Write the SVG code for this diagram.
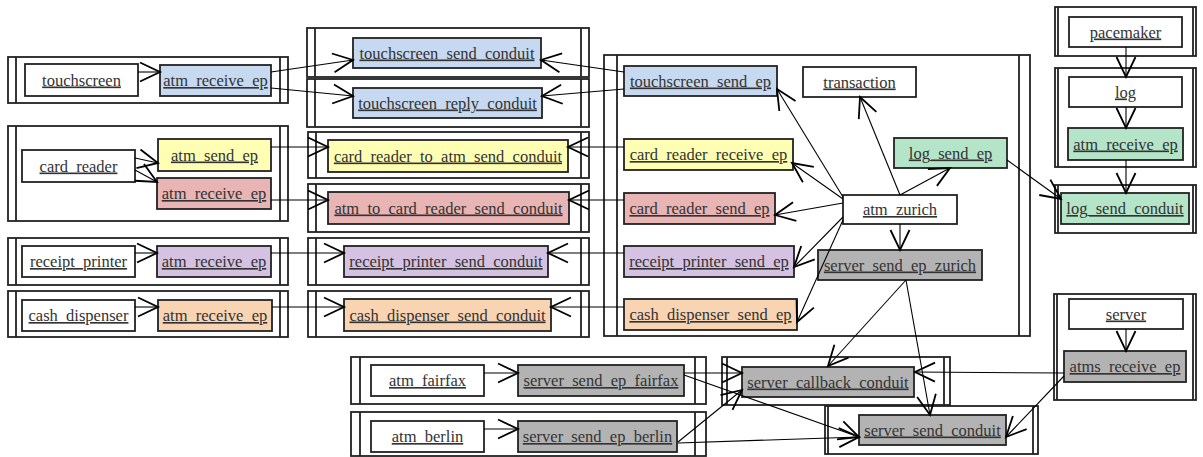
<svg xmlns="http://www.w3.org/2000/svg" width="1203" height="457" viewBox="0 0 1203 457">
<defs>
<marker id="ah" markerUnits="userSpaceOnUse" markerWidth="24" markerHeight="24" refX="20" refY="10" orient="auto" overflow="visible">
<path d="M0,0.5 L20,10 L0,19.5" fill="none" stroke="#000" stroke-width="1.8"/>
</marker>
<style>
.c{fill:#fff;stroke:#222;stroke-width:1.8}
.b{stroke:#222;stroke-width:1.8}
.n{stroke:#222;stroke-width:1.8}
.w{fill:#fff}
.blue{fill:#c6d9f0}
.yel{fill:#ffffb3}
.red{fill:#e8b4b4}
.pur{fill:#d5c2e2}
.org{fill:#f9d4b3}
.grn{fill:#b5e5c8}
.gry{fill:#b3b3b3}
text{font-family:"Liberation Serif","Times New Roman",serif;font-size:16.5px;fill:#333;text-anchor:middle;text-decoration:underline}
.e path{fill:none;stroke:#000;stroke-width:1.1;marker-end:url(#ah)}
</style>
</defs>
<rect width="1203" height="457" fill="#fff"/>

<!-- containers -->
<g id="proc_touchscreen"><rect class="c" x="8" y="57" width="280" height="46"/><path class="b" d="M16,57V103M280,57V103"/></g>
<g id="proc_card_reader"><rect class="c" x="8" y="126" width="280" height="95"/><path class="b" d="M16,126V221M280,126V221"/></g>
<g id="proc_receipt_printer"><rect class="c" x="8" y="238" width="280" height="47"/><path class="b" d="M16,238V285M280,238V285"/></g>
<g id="proc_cash_dispenser"><rect class="c" x="8" y="291" width="280" height="46"/><path class="b" d="M16,291V337M280,291V337"/></g>

<g id="proc_ts_send_conduit"><rect class="c" x="307" y="28" width="282" height="49"/><path class="b" d="M315,28V77M581,28V77"/></g>
<g id="proc_ts_reply_conduit"><rect class="c" x="307" y="79" width="282" height="48"/><path class="b" d="M315,79V127M581,79V127"/></g>
<g id="proc_cr_to_atm_conduit"><rect class="c" x="308" y="132" width="281" height="46"/><path class="b" d="M316,132V178M581,132V178"/></g>
<g id="proc_atm_to_cr_conduit"><rect class="c" x="308" y="184" width="281" height="48"/><path class="b" d="M316,184V232M581,184V232"/></g>
<g id="proc_rp_conduit"><rect class="c" x="308" y="238" width="281" height="47"/><path class="b" d="M316,238V285M581,238V285"/></g>
<g id="proc_cd_conduit"><rect class="c" x="308" y="291" width="281" height="46"/><path class="b" d="M316,291V337M581,291V337"/></g>

<g id="proc_atm_zurich"><rect class="c" x="604" y="55" width="426" height="281"/><path class="b" d="M617,55V336M1019,55V336"/></g>

<g id="proc_pacemaker"><rect class="c" x="1055" y="7" width="141" height="49"/><path class="b" d="M1058,7V56M1193,7V56"/></g>
<g id="proc_log"><rect class="c" x="1055" y="68" width="141" height="99"/><path class="b" d="M1058,68V167M1193,68V167"/></g>
<g id="proc_log_send_conduit"><rect class="c" x="1055" y="185" width="141" height="48"/><path class="b" d="M1058,185V233M1193,185V233"/></g>
<g id="proc_server"><rect class="c" x="1054" y="294" width="142" height="106"/><path class="b" d="M1057,294V400M1193,294V400"/></g>

<g id="proc_atm_fairfax"><rect class="c" x="351" y="357" width="355" height="47"/><path class="b" d="M360,357V404M695,357V404"/></g>
<g id="proc_atm_berlin"><rect class="c" x="351" y="412" width="355" height="44"/><path class="b" d="M360,412V456M695,412V456"/></g>
<g id="proc_server_callback_conduit"><rect class="c" x="722" y="357" width="228" height="48"/><path class="b" d="M727,357V405M944,357V405"/></g>
<g id="proc_server_send_conduit"><rect class="c" x="825" y="406" width="213" height="48"/><path class="b" d="M828,406V454M1033,406V454"/></g>

<!-- nodes -->
<g id="touchscreen"><rect class="n w" x="25" y="64" width="113" height="32"/><text x="81.5" y="85.5">touchscreen</text></g>
<g id="ts_atm_receive_ep"><rect class="n blue" x="160" y="65" width="111" height="31"/><text x="215.5" y="86">atm_receive_ep</text></g>
<g id="card_reader"><rect class="n w" x="22" y="150" width="113" height="32"/><text x="78.5" y="171.5">card_reader</text></g>
<g id="cr_atm_send_ep"><rect class="n yel" x="158" y="139" width="113" height="32"/><text x="214.5" y="160.5">atm_send_ep</text></g>
<g id="cr_atm_receive_ep"><rect class="n red" x="157" y="178" width="114" height="31"/><text x="214" y="199">atm_receive_ep</text></g>
<g id="receipt_printer"><rect class="n w" x="22" y="246" width="113" height="31"/><text x="78.5" y="267">receipt_printer</text></g>
<g id="rp_atm_receive_ep"><rect class="n pur" x="157" y="246" width="114" height="31"/><text x="214" y="267">atm_receive_ep</text></g>
<g id="cash_dispenser"><rect class="n w" x="22" y="300" width="113" height="31"/><text x="78.5" y="321">cash_dispenser</text></g>
<g id="cd_atm_receive_ep"><rect class="n org" x="158" y="300" width="114" height="31"/><text x="215" y="321">atm_receive_ep</text></g>

<g id="touchscreen_send_conduit"><rect class="n blue" x="353" y="38" width="188" height="30"/><text x="447" y="58.5">touchscreen_send_conduit</text></g>
<g id="touchscreen_reply_conduit"><rect class="n blue" x="353" y="88" width="189" height="30"/><text x="447.5" y="108.5">touchscreen_reply_conduit</text></g>
<g id="card_reader_to_atm_send_conduit"><rect class="n yel" x="328" y="140" width="240" height="32"/><text x="448" y="161.5">card_reader_to_atm_send_conduit</text></g>
<g id="atm_to_card_reader_send_conduit"><rect class="n red" x="328" y="192" width="241" height="32"/><text x="448.5" y="213.5">atm_to_card_reader_send_conduit</text></g>
<g id="receipt_printer_send_conduit"><rect class="n pur" x="344" y="246" width="204" height="31"/><text x="446" y="267">receipt_printer_send_conduit</text></g>
<g id="cash_dispenser_send_conduit"><rect class="n org" x="344" y="299" width="207" height="32"/><text x="447.5" y="320.5">cash_dispenser_send_conduit</text></g>

<g id="touchscreen_send_ep"><rect class="n blue" x="624" y="66" width="153" height="30"/><text x="700.5" y="86.5">touchscreen_send_ep</text></g>
<g id="transaction"><rect class="n w" x="803" y="67" width="113" height="30"/><text x="859.5" y="87.5">transaction</text></g>
<g id="card_reader_receive_ep"><rect class="n yel" x="624" y="139" width="169" height="31"/><text x="708.5" y="160">card_reader_receive_ep</text></g>
<g id="log_send_ep"><rect class="n grn" x="894" y="138" width="113" height="30"/><text x="950.5" y="158.5">log_send_ep</text></g>
<g id="card_reader_send_ep"><rect class="n red" x="624" y="193" width="151" height="31"/><text x="699.5" y="214">card_reader_send_ep</text></g>
<g id="atm_zurich"><rect class="n w" x="843" y="195" width="114" height="29"/><text x="900" y="215">atm_zurich</text></g>
<g id="receipt_printer_send_ep"><rect class="n pur" x="624" y="246" width="170" height="31"/><text x="709" y="267">receipt_printer_send_ep</text></g>
<g id="server_send_ep_zurich"><rect class="n gry" x="818" y="250" width="164" height="30"/><text x="900" y="270.5">server_send_ep_zurich</text></g>
<g id="cash_dispenser_send_ep"><rect class="n org" x="624" y="299" width="173" height="31"/><text x="710.5" y="320">cash_dispenser_send_ep</text></g>

<g id="pacemaker"><rect class="n w" x="1069" y="17" width="113" height="30"/><text x="1125.5" y="37.5">pacemaker</text></g>
<g id="log"><rect class="n w" x="1069" y="77" width="113" height="30"/><text x="1125.5" y="97.5">log</text></g>
<g id="log_atm_receive_ep"><rect class="n grn" x="1068" y="128" width="115" height="32"/><text x="1125.5" y="149.5">atm_receive_ep</text></g>
<g id="log_send_conduit"><rect class="n grn" x="1061" y="193" width="128" height="31"/><text x="1125" y="214">log_send_conduit</text></g>
<g id="server"><rect class="n w" x="1069" y="299" width="114" height="30"/><text x="1126" y="319.5">server</text></g>
<g id="atms_receive_ep"><rect class="n gry" x="1064" y="351" width="122" height="31"/><text x="1125" y="372">atms_receive_ep</text></g>

<g id="atm_fairfax"><rect class="n w" x="371" y="365" width="113" height="31"/><text x="427.5" y="386">atm_fairfax</text></g>
<g id="server_send_ep_fairfax"><rect class="n gry" x="518" y="365" width="166" height="31"/><text x="601" y="386">server_send_ep_fairfax</text></g>
<g id="atm_berlin"><rect class="n w" x="371" y="421" width="113" height="31"/><text x="427.5" y="442">atm_berlin</text></g>
<g id="server_send_ep_berlin"><rect class="n gry" x="518" y="421" width="159" height="31"/><text x="597.5" y="442">server_send_ep_berlin</text></g>
<g id="server_callback_conduit"><rect class="n gry" x="742" y="367" width="172" height="30"/><text x="828" y="387.5">server_callback_conduit</text></g>
<g id="server_send_conduit"><rect class="n gry" x="859" y="415" width="147" height="30"/><text x="932.5" y="435.5">server_send_conduit</text></g>

<!-- connectors -->
<g id="connectors" class="e">
<path d="M138,72 L160,72"/>
<path d="M271,72 L353,60"/>
<path d="M271,88 L353,96"/>
<path d="M624,72 L541,60"/>
<path d="M624,89 L542,96"/>
<path d="M271,147 L328,147"/>
<path d="M624,147 L568,147"/>
<path d="M271,200 L328,200"/>
<path d="M624,200 L569,200"/>
<path d="M271,253 L344,253"/>
<path d="M624,253 L548,253"/>
<path d="M272,307 L344,307"/>
<path d="M624,307 L551,307"/>
<path d="M135,158 L158,163"/>
<path d="M135,170 L157,182"/>
<path d="M135,253 L157,253"/>
<path d="M135,307 L158,307"/>
<path d="M1126,47 L1126,77"/>
<path d="M1126,107 L1126,128"/>
<path d="M1126,160 L1126,193"/>
<path d="M1007,160 L1061,199"/>
<path d="M843,197 L777,89"/>
<path d="M900,195 L860,97"/>
<path d="M900,195 L950,168"/>
<path d="M843,199 L792,163"/>
<path d="M843,203 L775,215"/>
<path d="M843,217 L794,267"/>
<path d="M843,220 L797,322"/>
<path d="M900,224 L900,250"/>
<path d="M906,280 L828,366"/>
<path d="M906,280 L930,415"/>
<path d="M1064,373 L915,372"/>
<path d="M1064,376 L1006,437"/>
<path d="M1126,329 L1126,351"/>
<path d="M484,373 L518,373"/>
<path d="M484,429 L518,429"/>
<path d="M684,373 L742,373"/>
<path d="M684,375 L859,437"/>
<path d="M678,442 L742,390"/>
<path d="M678,443 L859,437"/>
</g>
</svg>
